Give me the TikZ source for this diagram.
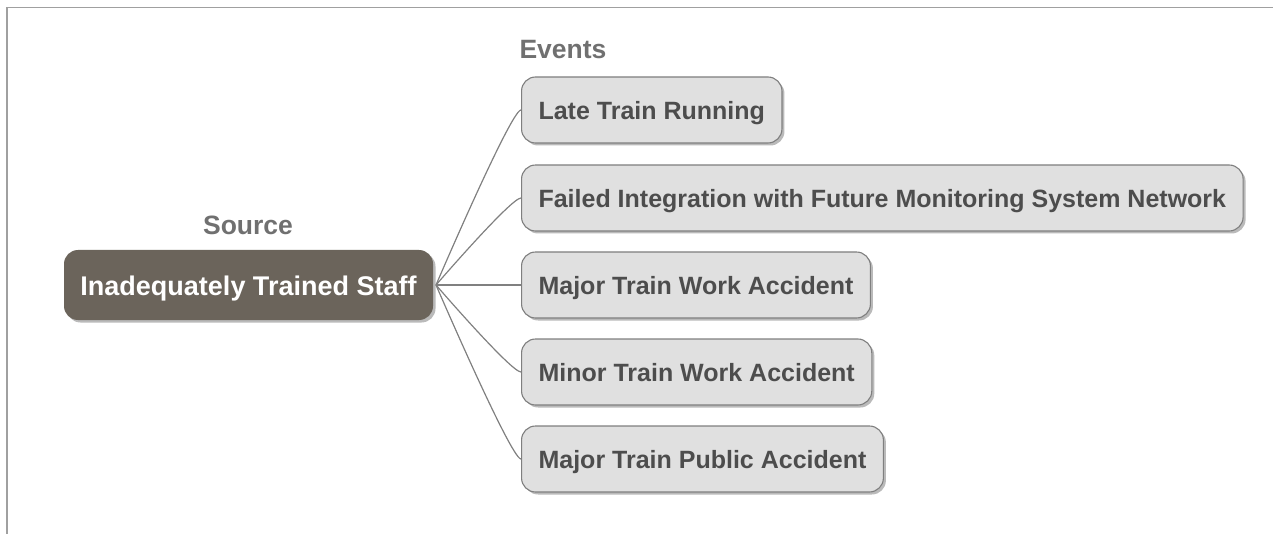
\documentclass[tikz,border=0pt]{standalone}
\usepackage{fontspec}
\setmainfont{Liberation Sans}
\usetikzlibrary{shadows}
\definecolor{framegray}{HTML}{A0A0A0}
\definecolor{boxfill}{HTML}{E0E0E0}
\definecolor{boxdraw}{HTML}{7F7F7F}
\definecolor{txtdark}{HTML}{4D4D4D}
\definecolor{lbl}{HTML}{707070}
\definecolor{srcfill}{HTML}{6B645B}
\definecolor{linkgray}{HTML}{808080}
\tikzset{
  eventbox/.style={draw=boxdraw, line width=1.1pt, fill=boxfill, rounded corners=14pt,
    minimum height=66pt, inner xsep=17pt, anchor=west, text=txtdark,
    text height=19pt, text depth=0pt,
    font=\fontsize{25pt}{28pt}\selectfont\bfseries,
    drop shadow={shadow xshift=2.5pt, shadow yshift=-2.5pt, opacity=0.45, fill=black!60}},
  srcbox/.style={fill=srcfill, rounded corners=14pt, minimum height=70pt, minimum width=369pt,
    text=white, text height=21pt, text depth=0pt,
    font=\fontsize{27pt}{30pt}\selectfont\bfseries,
    drop shadow={shadow xshift=2.5pt, shadow yshift=-2.5pt, opacity=0.45, fill=black!60}},
  headlbl/.style={text=lbl, font=\fontsize{26.5pt}{29pt}\selectfont\bfseries},
  link/.style={draw=linkgray, line width=1.2pt}
}
\begin{document}
\begin{tikzpicture}[x=1pt,y=-1pt]
\useasboundingbox (0,0) rectangle (1273,534);
\draw[framegray, line width=1.5pt] (7,534) -- (7,7.5) -- (1273,7.5);
\node[srcbox] (src) at (248.5,285) {Inadequately Trained Staff};
\node[headlbl] (srclbl) at (248,225) {Source};
\node[headlbl, anchor=west] (evlbl) at (516,50) {Events};
\node[eventbox] (e1) at (521,110) {Late Train Running};
\node[eventbox] (e2) at (521,198) {Failed Integration with Future Monitoring System Network};
\node[eventbox] (e3) at (521,285) {Major Train Work Accident};
\node[eventbox] (e4) at (521,372) {Minor Train Work Accident};
\node[eventbox] (e5) at (521,459) {Major Train Public Accident};
\coordinate (hub) at (436,285);
\foreach \e in {e1,e2,e4,e5}{
  \draw[link] (hub) .. controls (hub) and ([xshift=-10pt]\e.west) .. (\e.west);
}
\draw[link] (hub) -- (e3.west);
\end{tikzpicture}
\end{document}
